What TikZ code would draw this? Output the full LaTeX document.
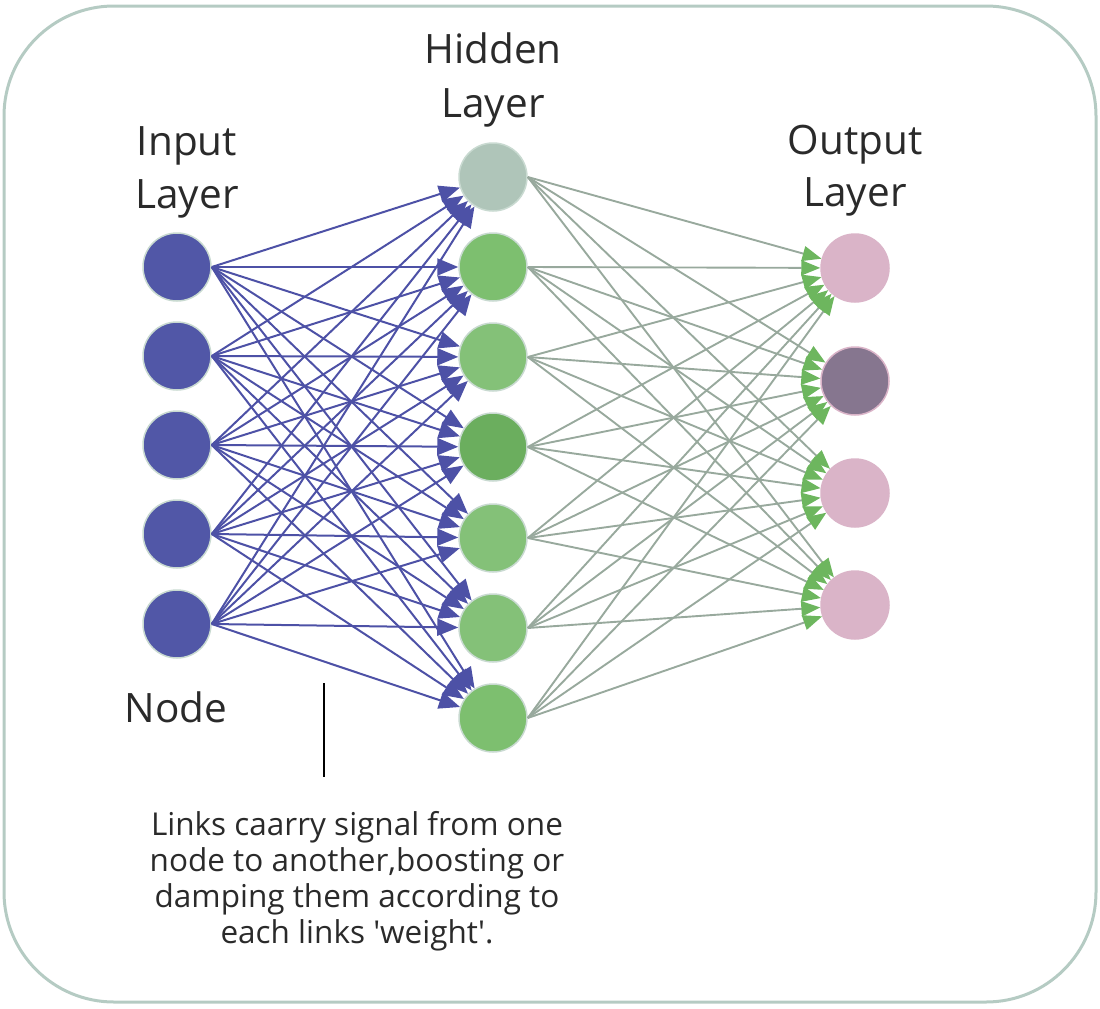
\documentclass[tikz,border=0pt]{standalone}
\usepackage{fontspec}
\setmainfont{Open Sans}
\usetikzlibrary{arrows.meta}
\definecolor{framec}{HTML}{B5CBC3}
\definecolor{inblue}{HTML}{5157A7}
\definecolor{edgeblue}{HTML}{4D51A6}
\definecolor{edgegrey}{HTML}{98A99D}
\definecolor{tipgreen}{HTML}{6DB65E}
\definecolor{hgreen}{HTML}{7DBF6F}
\definecolor{hgreenl}{HTML}{84C178}
\definecolor{hgreend}{HTML}{6BAE5E}
\definecolor{hgrey}{HTML}{AFC5B9}
\definecolor{outpink}{HTML}{DAB4C8}
\definecolor{outpurple}{HTML}{86768F}
\definecolor{halo}{HTML}{C9DAD1}
\definecolor{txt}{HTML}{2A2A2A}
\begin{document}
\begin{tikzpicture}[x=1pt,y=-1pt,
  neuron/.style={circle,minimum size=68pt,inner sep=0pt,draw=halo,line width=1.5pt},
  inneuron/.style={neuron,fill=inblue},
  hidneuron/.style={neuron,fill=hgreen},
  outneuron/.style={neuron,fill=outpink,draw=outpink},
  inlink/.style={draw=edgeblue,line width=2pt,-{Triangle[length=21pt 0,width=17pt 0,color=edgeblue]}},
  outlink/.style={draw=edgegrey,line width=1.9pt,-{Triangle[length=19pt 0,width=15pt 0,color=tipgreen]}},
  label/.style={anchor=base,text=txt,inner sep=0pt,font=\fontsize{40.5}{48}\selectfont},
  small/.style={anchor=base,text=txt,inner sep=0pt,font=\fontsize{31.5}{38}\selectfont}
]
\useasboundingbox (0,0) rectangle (1100,1009);
\draw[framec,line width=3pt,rounded corners=110pt] (4,6) rectangle (1096,1002);

% input layer
\foreach \k/\y in {1/267,2/356,3/445,4/534,5/624}
  \node[inneuron] (i\k) at (177,\y) {};
% hidden layer
\node[hidneuron,fill=hgrey] (h1) at (493,177) {};
\node[hidneuron] (h2) at (493,267) {};
\node[hidneuron,fill=hgreenl] (h3) at (493,357) {};
\node[hidneuron,fill=hgreend] (h4) at (493,447) {};
\node[hidneuron,fill=hgreenl] (h5) at (493,538) {};
\node[hidneuron,fill=hgreenl] (h6) at (493,628) {};
\node[hidneuron] (h7) at (493,718) {};
% output layer
\node[outneuron] (o1) at (855,268) {};
\node[outneuron,fill=outpurple] (o2) at (855,381) {};
\node[outneuron] (o3) at (855,493) {};
\node[outneuron] (o4) at (855,605) {};

% links
\foreach \a in {1,...,5}
  \foreach \b in {1,...,7}
    \draw[inlink] (i\a.east) -- (h\b);
\foreach \a in {1,...,7}
  \foreach \b in {1,...,4}
    \draw[outlink] (h\a.east) -- (o\b);

% labels
\node[label] (inl1) at (187,155) {Input};
\node[label] (inl2) at (187,208) {Layer};
\node[label] (hdl1) at (493,63) {Hidden};
\node[label] (hdl2) at (493,117) {Layer};
\node[label] (otl1) at (855,154) {Output};
\node[label] (otl2) at (855,206) {Layer};
\node[label] (nodel) at (176,722) {Node};

\coordinate (ltop) at (324,683);
\coordinate (lbot) at (324,777);
\draw[black,line width=2.5pt] (ltop) -- (lbot);

\node[small] (t1) at (357,835) {Links caarry signal from one};
\node[small] (t2) at (357,871) {node to another,boosting or};
\node[small] (t3) at (357,907) {damping them according to};
\node[small] (t4) at (357,943) {each links \textquotesingle weight\textquotesingle.};
\end{tikzpicture}
\end{document}
